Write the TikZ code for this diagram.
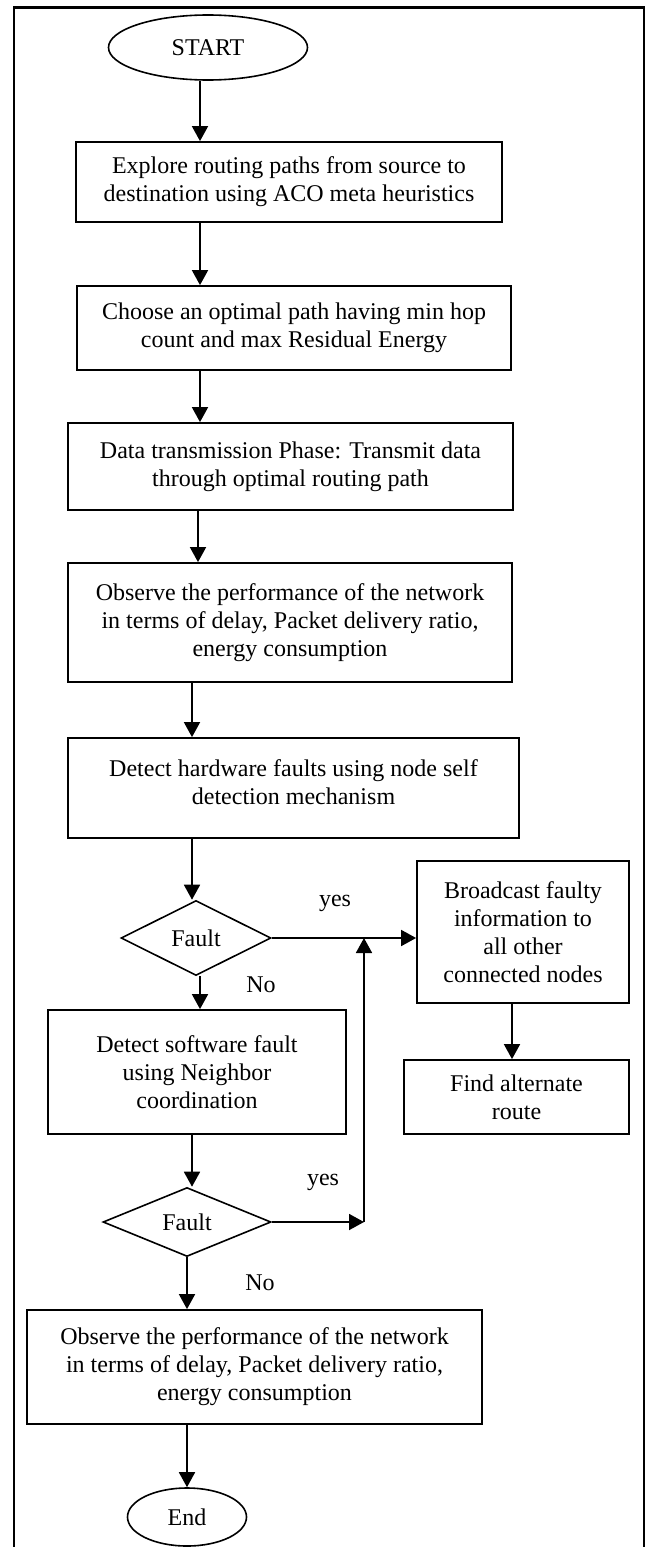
\documentclass[tikz,border=0pt]{standalone}
\usepackage{fontspec}
\setmainfont{Liberation Serif}
\usetikzlibrary{shapes.geometric,arrows.meta}
\begin{document}
\begin{tikzpicture}[x=1pt,y=-1pt,
  every node/.style={font=\fontsize{24}{28}\selectfont},
  box/.style={draw, rectangle, line width=1.8pt, align=center, inner sep=0pt},
  term/.style={draw, ellipse, line width=1.6pt, inner sep=0pt},
  dec/.style={draw, diamond, line width=1.6pt, inner sep=0pt},
  txt/.style={align=center, inner sep=0pt},
  arr/.style={line width=1.8pt, -{Triangle[length=15pt,width=16pt]}},
  lbl/.style={inner sep=0pt},
  frame/.style={line width=2.5pt}]
\useasboundingbox (0,0) rectangle (647,1547);
\draw[frame] (14,1547) -- (14,7.5) -- (644,7.5) -- (644,1547);

\node[term, minimum width=199pt, minimum height=65pt] (start) at (208,47.5) {START};
\node[box, minimum width=426pt, minimum height=80pt] (b1) at (289,182)
  {Explore routing paths from source to\\destination using ACO meta heuristics};
\node[box, minimum width=434pt, minimum height=84pt] (b2) at (294,328)
  {Choose an optimal path having min hop\\count and max Residual Energy};
\node[box, minimum width=445pt, minimum height=87pt] (b3) at (290.5,466.5)
  {Data transmission Phase: Transmit data\\through optimal routing path};
\node[box, minimum width=444pt, minimum height=119pt] (b4) at (290,622.5)
  {Observe the performance of the network\\in terms of delay, Packet delivery ratio,\\energy consumption};
\node[box, minimum width=451pt, minimum height=100pt] (b5) at (293.5,788) {};
\node[txt] (b5t) at (293.5,782) {Detect hardware faults using node self\\detection mechanism};
\node[dec, minimum width=150pt, minimum height=75pt] (d1) at (196,938) {Fault};
\node[box, minimum width=212pt, minimum height=142pt] (bc) at (523,932)
  {Broadcast faulty\\information to\\all other\\connected nodes};
\node[box, minimum width=298pt, minimum height=124pt] (sw) at (197,1072)
  {Detect software fault\\using Neighbor\\coordination};
\node[box, minimum width=225pt, minimum height=74pt] (fa) at (516.5,1097)
  {Find alternate\\route};
\node[dec, minimum width=168pt, minimum height=69pt] (d2) at (187,1222) {Fault};
\node[box, minimum width=455pt, minimum height=114pt] (b6) at (254.5,1367)
  {Observe the performance of the network\\in terms of delay, Packet delivery ratio,\\energy consumption};
\node[term, minimum width=119pt, minimum height=58pt] (end) at (187,1517) {End};

\node[lbl] (yes1) at (335,903) {yes};
\node[lbl] (no1) at (261,985) {No};
\node[lbl] (yes2) at (323,1182) {yes};
\node[lbl] (no2) at (260,1283) {No};

\coordinate (cA) at (200,0);
\coordinate (cB) at (198,0);
\coordinate (cC) at (192,0);
\coordinate (cD) at (187,0);
\coordinate (cE) at (512,0);
\coordinate (cF) at (364,0);

\draw[arr] (start.south -| cA) -- (b1.north -| cA);
\draw[arr] (b1.south -| cA) -- (b2.north -| cA);
\draw[arr] (b2.south -| cA) -- (b3.north -| cA);
\draw[arr] (b3.south -| cB) -- (b4.north -| cB);
\draw[arr] (b4.south -| cC) -- (b5.north -| cC);
\draw[arr] (b5.south -| cC) -- (d1.north -| cC);
\draw[arr] (d1.south -| cA) -- (sw.north -| cA);
\draw[arr] (d1.east) -- (bc.west |- d1.east);
\draw[arr] (sw.south -| cC) -- (d2.north -| cC);
\draw[arr] (d2.east) -- (d2.east -| cF);
\draw[arr] (d2.east -| cF) -- (d1.east -| cF);
\draw[arr] (bc.south -| cE) -- (fa.north -| cE);
\draw[arr] (d2.south -| cD) -- (b6.north -| cD);
\draw[arr] (b6.south -| cD) -- (end.north -| cD);
\end{tikzpicture}
\end{document}
